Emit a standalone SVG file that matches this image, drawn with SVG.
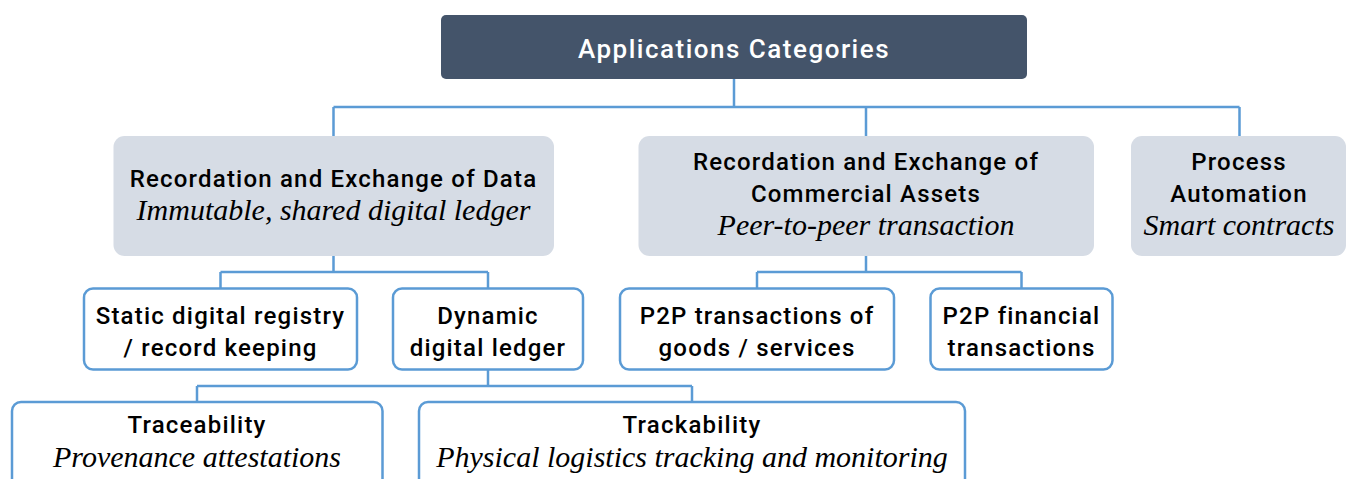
<svg xmlns="http://www.w3.org/2000/svg" width="1347" height="479" viewBox="0 0 1347 479">
<style>
.bg{fill:#ffffff}
.top{fill:#44546A}
.cat{fill:#D6DCE5}
.sub{fill:#ffffff;stroke:#5B9BD5;stroke-width:2.5}
.con{fill:none;stroke:#5B9BD5;stroke-width:2.5}
text{text-anchor:middle}
.t{font-family:Roboto,"Liberation Sans",sans-serif;font-weight:500;font-size:24px;letter-spacing:1.2px;fill:#000}
.tt{font-family:Roboto,"Liberation Sans",sans-serif;font-weight:500;font-size:26px;letter-spacing:1.5px;fill:#fff}
.i{font-family:"Liberation Serif",serif;font-style:italic;font-size:30px;fill:#000}
</style>
<rect class="bg" x="0" y="0" width="1347" height="479"/>
<g id="connectors">
<path class="con" d="M734 79V107M333.5 107H1239.5M333.5 107V136M866 107V136M1239.5 107V136"/>
<path class="con" d="M333.5 256V272M220.5 272H488M220.5 272V288M488 272V288"/>
<path class="con" d="M866 256V272M757 272H1021.5M757 272V288M1021.5 272V288"/>
<path class="con" d="M488 369V386M197 386H692M197 386V402M692 386V402"/>
</g>
<g id="root">
<rect class="top" x="441" y="15" width="586" height="64" rx="5"/>
<text class="tt" x="734" y="58">Applications Categories</text>
</g>
<g id="cat-data">
<rect class="cat" x="113.5" y="136" width="440.5" height="120" rx="11"/>
<text class="t" x="333.5" y="187">Recordation and Exchange of Data</text>
<text class="i" x="333.5" y="220">Immutable, shared digital ledger</text>
</g>
<g id="cat-assets">
<rect class="cat" x="638.5" y="136" width="455.5" height="120" rx="11"/>
<text class="t" x="866" y="170">Recordation and Exchange of</text>
<text class="t" x="866" y="202">Commercial Assets</text>
<text class="i" x="866" y="235">Peer-to-peer transaction</text>
</g>
<g id="cat-process">
<rect class="cat" x="1131" y="136" width="215" height="120" rx="11"/>
<text class="t" x="1239" y="170">Process</text>
<text class="t" x="1239" y="202">Automation</text>
<text class="i" x="1239" y="235">Smart contracts</text>
</g>
<g id="static-registry">
<rect class="sub" x="84" y="288.5" width="273" height="81" rx="9"/>
<text class="t" x="220.5" y="324">Static digital registry</text>
<text class="t" x="220.5" y="356">/ record keeping</text>
</g>
<g id="dynamic-ledger">
<rect class="sub" x="393" y="288.5" width="190" height="81" rx="9"/>
<text class="t" x="488" y="324">Dynamic</text>
<text class="t" x="488" y="356">digital ledger</text>
</g>
<g id="p2p-goods">
<rect class="sub" x="620" y="288.5" width="274" height="81" rx="9"/>
<text class="t" x="757" y="324">P2P transactions of</text>
<text class="t" x="757" y="356">goods / services</text>
</g>
<g id="p2p-financial">
<rect class="sub" x="930.5" y="288.5" width="182" height="81" rx="9"/>
<text class="t" x="1021.5" y="324">P2P financial</text>
<text class="t" x="1021.5" y="356">transactions</text>
</g>
<g id="traceability">
<rect class="sub" x="12" y="402" width="370.5" height="110" rx="9"/>
<text class="t" x="197" y="433">Traceability</text>
<text class="i" x="197" y="467">Provenance attestations</text>
</g>
<g id="trackability">
<rect class="sub" x="419" y="402" width="546" height="110" rx="9"/>
<text class="t" x="692" y="433">Trackability</text>
<text class="i" x="692" y="467">Physical logistics tracking and monitoring</text>
</g>
</svg>
